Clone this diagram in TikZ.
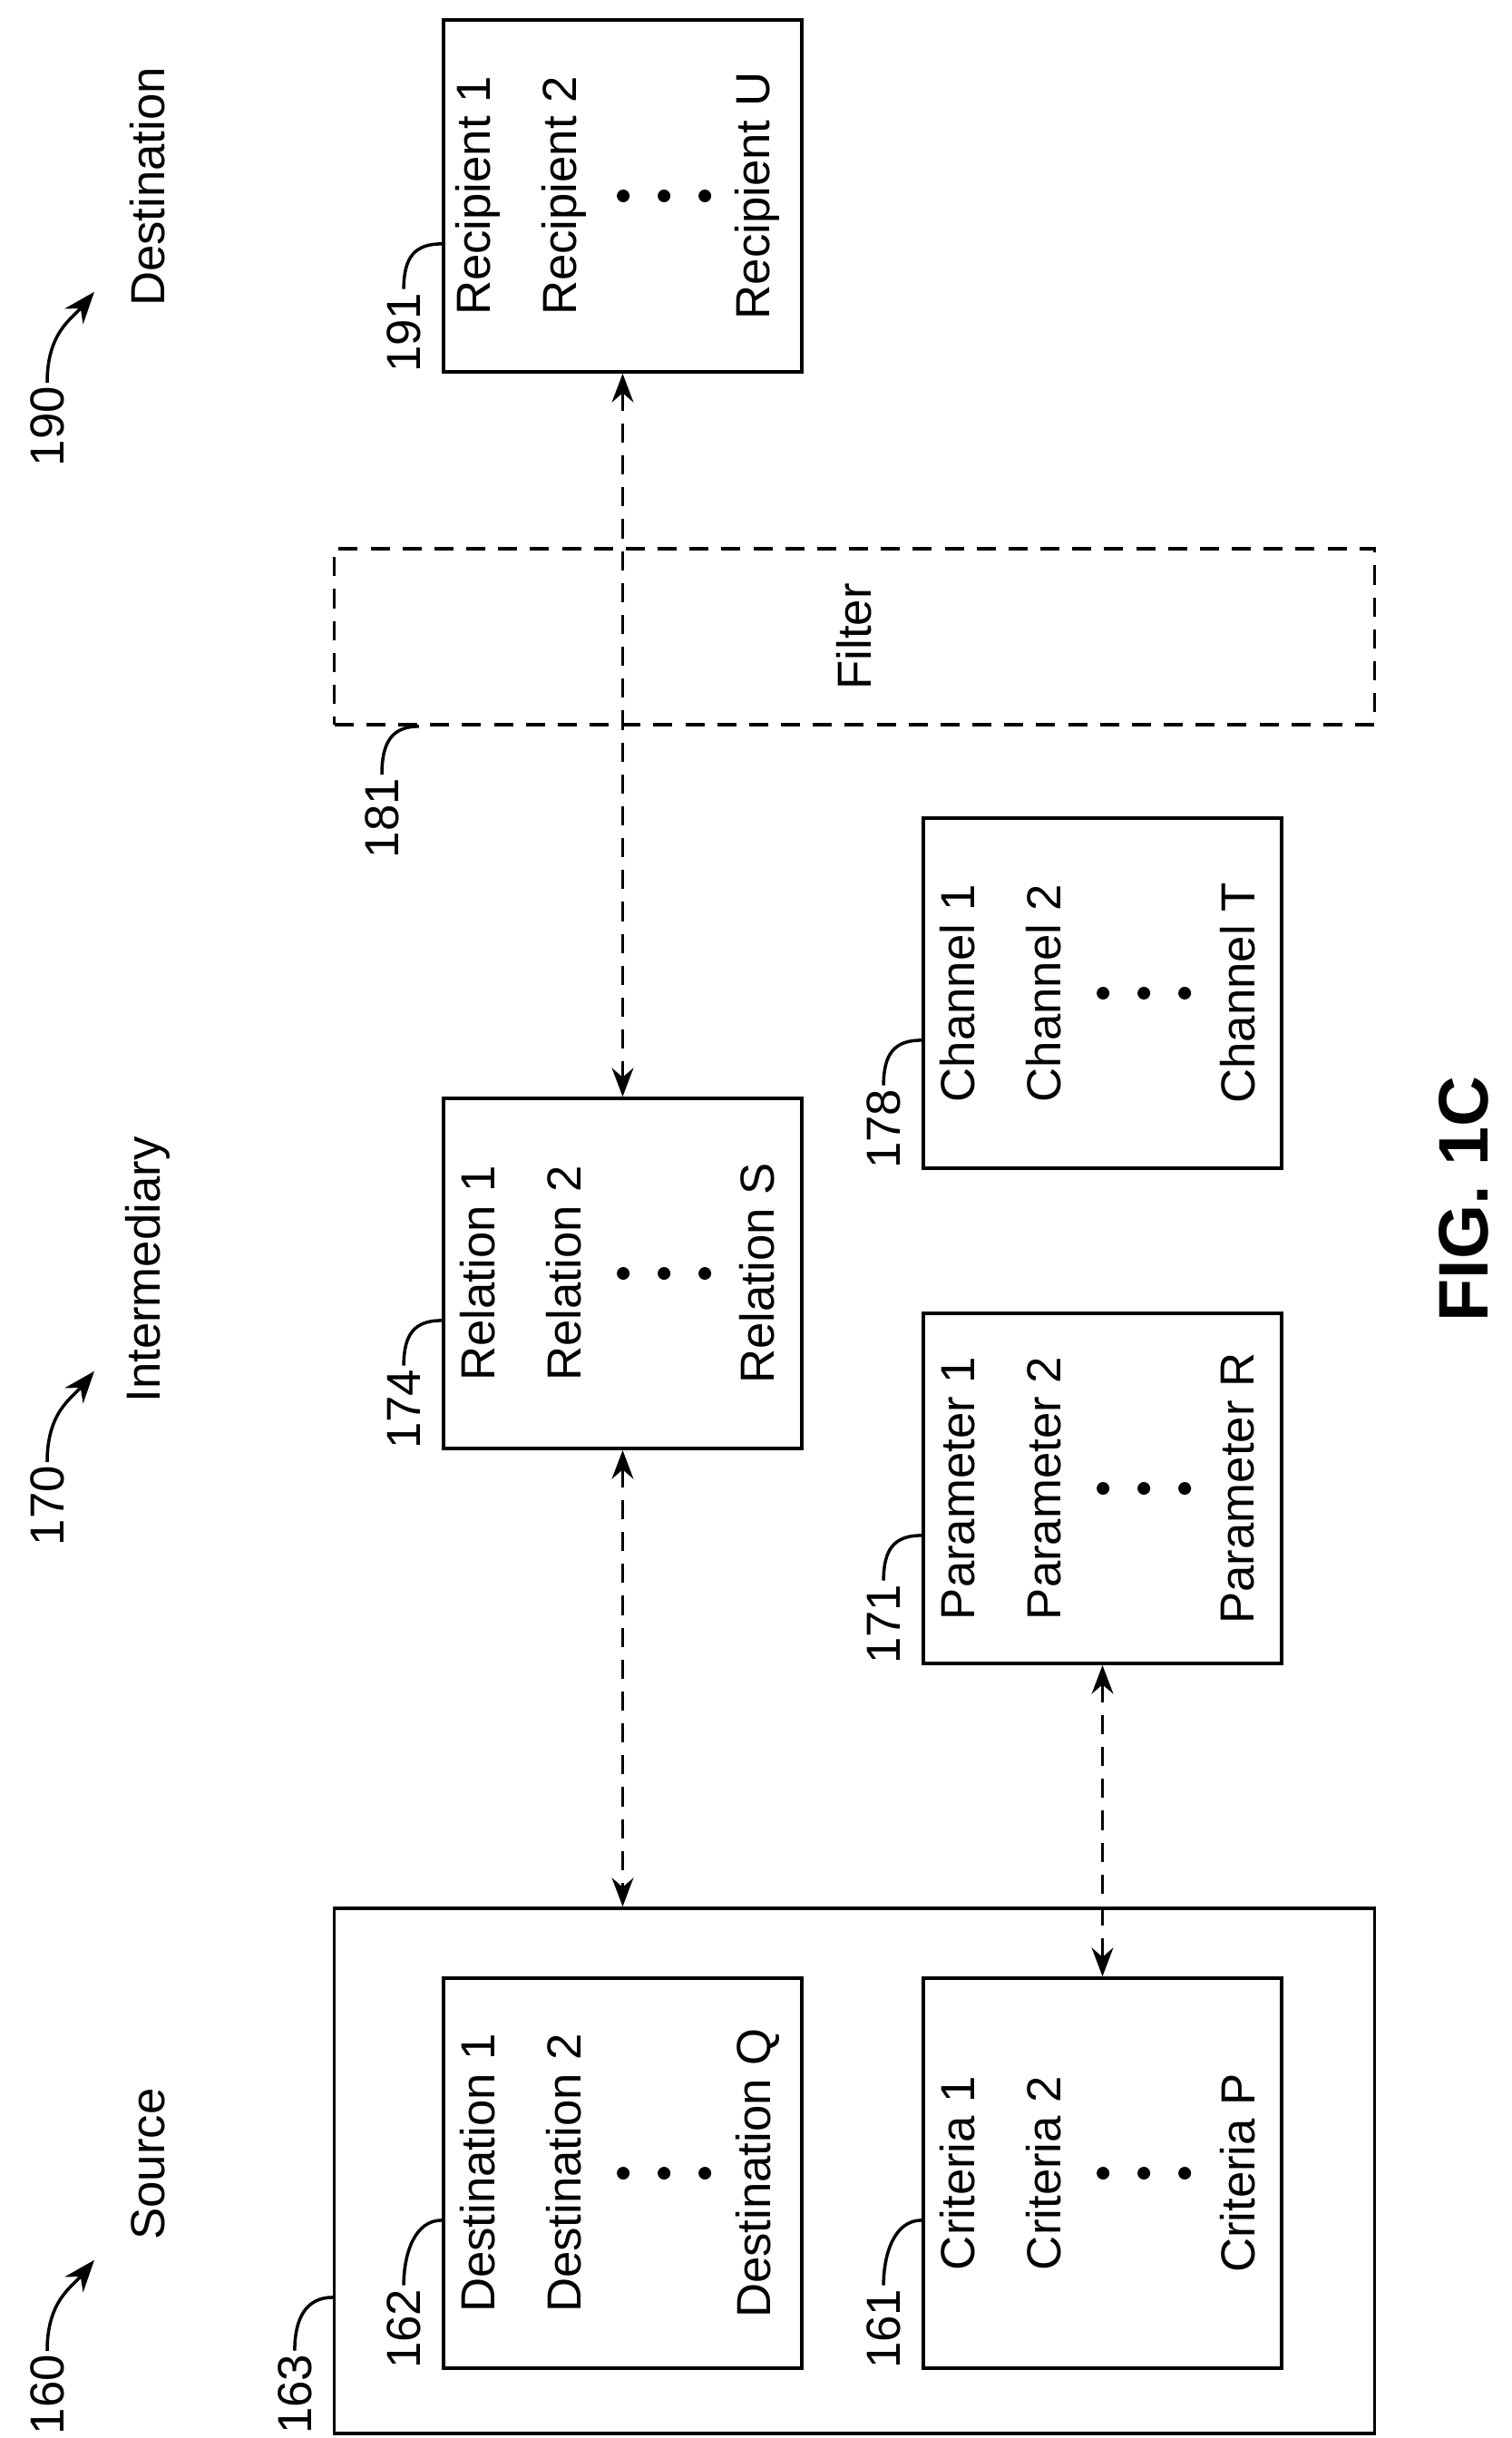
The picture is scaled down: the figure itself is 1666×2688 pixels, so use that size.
\documentclass[tikz,border=0pt]{standalone}
\usepackage{fontspec}
\setmainfont{Liberation Sans}
\usetikzlibrary{positioning, calc, arrows.meta}

\tikzset{
  box/.style={draw, line width=1pt, minimum width=3.95cm, inner sep=0pt},
  lbl/.style={rotate=90, font=\fontsize{15}{18}\selectfont, inner sep=1pt},
  link/.style={dashed, dash pattern=on 6pt off 4pt, line width=1pt, {Stealth[length=9pt]}-{Stealth[length=9pt]}},
  lead/.style={line width=1pt},
  dot/.style={circle, fill, inner sep=0pt, minimum size=1.4mm}
}
% rotated list inside a box: box, first, second, last
\newcommand{\boxlist}[4]{%
  \node[lbl] at ($(#1.west)+(40,0)$) {#2};
  \node[lbl] at ($(#1.west)+(135,0)$) {#3};
  \foreach \dx in {200,245,290} \node[dot] at ($(#1.west)+(\dx,0)$) {};
  \node[lbl] at ($(#1.west)+(348,0)$) {#4};
}
% reference number with curved leader: box, number, rise of leader
\newcommand{\refnum}[3]{%
  \node[lbl] (n#2) at ($(#1.south west)+(-42,-45)$) {#2};
  \draw[lead] (n#2.east) .. controls +(0,-35) and +(-30,0) .. ($(#1.south west)+(0,-#3)$);
}

\begin{document}
\begin{tikzpicture}[x=0.01cm, y=-0.01cm]
  \useasboundingbox (0,0) rectangle (1666,2688);

  % headings
  \node[lbl] (h190) at (52,470) {190};
  \node[lbl] (t190) at (163,206) {Destination};
  \node[lbl] (h170) at (52,1660) {170};
  \node[lbl] (t170) at (163,1400) {Intermediary};
  \node[lbl] (h160) at (52,2640) {160};
  \node[lbl] (t160) at (163,2386) {Source};
  \foreach \h in {h190,h170,h160}
    \draw[lead, -{Stealth[length=10pt]}] (\h.east) .. controls +(0,-55) and +(-25,30) .. ($(\h.east)+(52,-100)$);

  % boxes
  \node[box, minimum height=3.88cm] (r191) at (686.5,216) {};
  \node[draw, dashed, dash pattern=on 6pt off 4pt, line width=1pt, minimum width=11.46cm, minimum height=1.94cm, inner sep=0pt] (f181) at (942,702) {};
  \node[lbl] at (f181) {Filter};
  \node[box, minimum height=3.86cm] (r174) at (686.5,1404) {};
  \node[box, minimum height=3.86cm] (c178) at (1215.5,1095) {};
  \node[box, minimum height=3.86cm] (p171) at (1215.5,1641) {};
  \node[box, minimum width=11.46cm, minimum height=5.79cm] (s163) at (942,2393.5) {};
  \node[box, minimum height=4.30cm] (d162) at (686.5,2396) {};
  \node[box, minimum height=4.30cm] (c161) at (1215.5,2396) {};

  \boxlist{r191}{Recipient 1}{Recipient 2}{Recipient U}
  \boxlist{r174}{Relation 1}{Relation 2}{Relation S}
  \boxlist{c178}{Channel 1}{Channel 2}{Channel T}
  \boxlist{p171}{Parameter 1}{Parameter 2}{Parameter R}
  \boxlist{d162}{Destination 1}{Destination 2}{Destination Q}
  \boxlist{c161}{Criteria 1}{Criteria 2}{Criteria P}

  \refnum{r191}{191}{143}
  \refnum{r174}{174}{143}
  \refnum{c178}{178}{143}
  \refnum{p171}{171}{143}
  \refnum{d162}{162}{165}
  \refnum{c161}{161}{165}
  \refnum{s163}{163}{152}
  \node[lbl] (n181) at (421,902) {181};
  \draw[lead] (n181.east) .. controls +(0,-35) and +(-30,0) .. ($(f181.south west)+(95,0)$);

  % links
  \draw[link] (r191.south) -- (r174.north);
  \draw[link] (r174.south) -- (r174.south |- s163.north);
  \draw[link] (p171.south) -- (c161.north);

  \node[rotate=90, font=\fontsize{22}{26}\selectfont\bfseries] (fig) at (1614,1322) {FIG. 1C};
\end{tikzpicture}
\end{document}
